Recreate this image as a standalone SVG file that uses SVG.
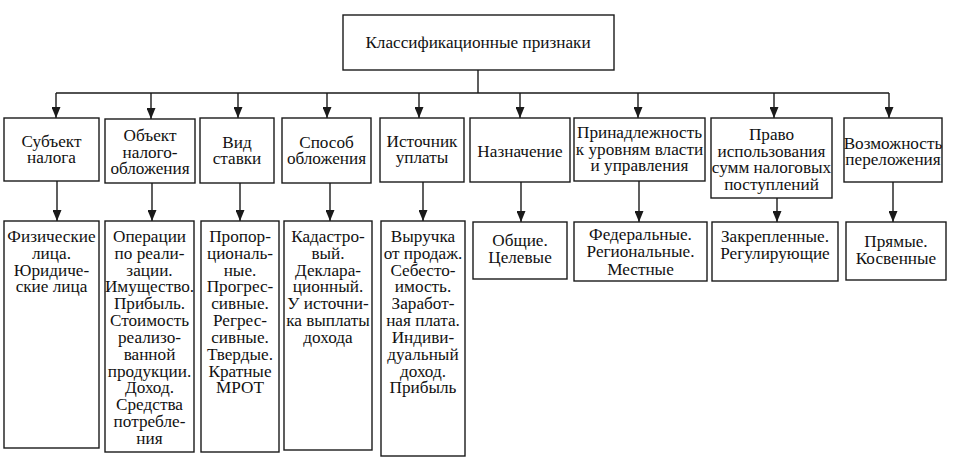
<svg xmlns="http://www.w3.org/2000/svg" width="958" height="460" viewBox="0 0 958 460">
<defs>
<style>
.b{fill:#fff;stroke:#1a1a1a;stroke-width:1.4}
.c{fill:none;stroke:#1a1a1a;stroke-width:1.4}
.t{font-family:'Liberation Serif','Times New Roman',serif;font-size:17.2px;fill:#111;text-anchor:middle}
</style>
<marker id="ah" markerUnits="userSpaceOnUse" markerWidth="11" markerHeight="9" viewBox="0 0 11 9" refX="11" refY="4.5" orient="auto">
<path d="M0,0 L11,4.5 L0,9 z" fill="#1a1a1a"/>
</marker>
</defs>
<rect width="958" height="460" fill="#fff"/>
<g id="connectors">
<path class="c" d="M478,70 V93 M56,93 H889"/>
<path class="c" marker-end="url(#ah)" d="M56,93 V118"/>
<path class="c" marker-end="url(#ah)" d="M151,93 V119"/>
<path class="c" marker-end="url(#ah)" d="M238,93 V118"/>
<path class="c" marker-end="url(#ah)" d="M327,93 V118"/>
<path class="c" marker-end="url(#ah)" d="M419,93 V118"/>
<path class="c" marker-end="url(#ah)" d="M520,93 V118"/>
<path class="c" marker-end="url(#ah)" d="M638,93 V118"/>
<path class="c" marker-end="url(#ah)" d="M774,93 V118"/>
<path class="c" marker-end="url(#ah)" d="M889,93 V118"/>
<path class="c" marker-end="url(#ah)" d="M57,181 V221"/>
<path class="c" marker-end="url(#ah)" d="M152,183 V221"/>
<path class="c" marker-end="url(#ah)" d="M240,183 V221"/>
<path class="c" marker-end="url(#ah)" d="M330,183 V221"/>
<path class="c" marker-end="url(#ah)" d="M423,182 V221"/>
<path class="c" marker-end="url(#ah)" d="M521,182 V222"/>
<path class="c" marker-end="url(#ah)" d="M639,181 V222"/>
<path class="c" marker-end="url(#ah)" d="M777,198 V222"/>
<path class="c" marker-end="url(#ah)" d="M893,182 V222"/>
</g>
<g id="root">
<rect class="b" x="343" y="15" width="271" height="55"/>
<text class="t" x="478" y="48">Классификационные признаки</text>
</g>
<g id="n1">
<rect class="b" x="4" y="118" width="95" height="63"/>
<text class="t" x="51.5" y="147">Субъект</text><text class="t" x="51.5" y="163">налога</text>
</g>
<g id="n2">
<rect class="b" x="105" y="119" width="90" height="64"/>
<text class="t" x="150" y="141">Объект</text><text class="t" x="150" y="158">налого-</text><text class="t" x="150" y="174">обложения</text>
</g>
<g id="n3">
<rect class="b" x="200" y="118" width="74" height="65"/>
<text class="t" x="237" y="148">Вид</text><text class="t" x="237" y="164">ставки</text>
</g>
<g id="n4">
<rect class="b" x="282" y="118" width="89" height="65"/>
<text class="t" x="326.5" y="148">Способ</text><text class="t" x="326.5" y="164">обложения</text>
</g>
<g id="n5">
<rect class="b" x="380" y="118" width="84" height="64"/>
<text class="t" x="422" y="147">Источник</text><text class="t" x="422" y="163">уплаты</text>
</g>
<g id="n6">
<rect class="b" x="470" y="118" width="100" height="64"/>
<text class="t" x="520" y="157">Назначение</text>
</g>
<g id="n7">
<rect class="b" x="574" y="118" width="131" height="63"/>
<text class="t" x="639.5" y="138">Принадлежность</text><text class="t" x="639.5" y="155">к уровням власти</text><text class="t" x="639.5" y="171">и управления</text>
</g>
<g id="n8">
<rect class="b" x="711" y="118" width="121" height="80"/>
<text class="t" x="771.5" y="140">Право</text><text class="t" x="771.5" y="157">использования</text><text class="t" x="771.5" y="173">сумм налоговых</text><text class="t" x="771.5" y="190">поступлений</text>
</g>
<g id="n9">
<rect class="b" x="844" y="118" width="98" height="64"/>
<text class="t" x="893" y="149">Возможность</text><text class="t" x="893" y="165">переложения</text>
</g>
<g id="d1">
<rect class="b" x="4" y="221" width="95" height="227"/>
<text class="t" x="51.5" y="242">Физические</text><text class="t" x="51.5" y="259">лица.</text><text class="t" x="51.5" y="276">Юридиче-</text><text class="t" x="51.5" y="292">ские лица</text>
</g>
<g id="d2">
<rect class="b" x="105" y="221" width="89" height="231"/>
<text class="t" x="149.5" y="242">Операции</text><text class="t" x="149.5" y="259">по реали-</text><text class="t" x="149.5" y="276">зации.</text><text class="t" x="149.5" y="292">Имущество.</text><text class="t" x="149.5" y="309">Прибыль.</text><text class="t" x="149.5" y="326">Стоимость</text><text class="t" x="149.5" y="343">реализо-</text><text class="t" x="149.5" y="360">ванной</text><text class="t" x="149.5" y="377">продукции.</text><text class="t" x="149.5" y="393">Доход.</text><text class="t" x="149.5" y="410">Средства</text><text class="t" x="149.5" y="427">потребле-</text><text class="t" x="149.5" y="444">ния</text>
</g>
<g id="d3">
<rect class="b" x="201" y="221" width="78" height="231"/>
<text class="t" x="240" y="242">Пропор-</text><text class="t" x="240" y="259">циональ-</text><text class="t" x="240" y="276">ные.</text><text class="t" x="240" y="292">Прогрес-</text><text class="t" x="240" y="309">сивные.</text><text class="t" x="240" y="326">Регрес-</text><text class="t" x="240" y="343">сивные.</text><text class="t" x="240" y="360">Твердые.</text><text class="t" x="240" y="377">Кратные</text><text class="t" x="240" y="393">МРОТ</text>
</g>
<g id="d4">
<rect class="b" x="284" y="221" width="88" height="229"/>
<text class="t" x="328" y="242">Кадастро-</text><text class="t" x="328" y="259">вый.</text><text class="t" x="328" y="276">Деклара-</text><text class="t" x="328" y="292">ционный.</text><text class="t" x="328" y="309">У источни-</text><text class="t" x="328" y="326">ка выплаты</text><text class="t" x="328" y="343">дохода</text>
</g>
<g id="d5">
<rect class="b" x="381" y="221" width="84" height="235"/>
<text class="t" x="423" y="242">Выручка</text><text class="t" x="423" y="259">от продаж.</text><text class="t" x="423" y="276">Себесто-</text><text class="t" x="423" y="292">имость.</text><text class="t" x="423" y="309">Заработ-</text><text class="t" x="423" y="326">ная плата.</text><text class="t" x="423" y="343">Индиви-</text><text class="t" x="423" y="360">дуальный</text><text class="t" x="423" y="377">доход.</text><text class="t" x="423" y="393">Прибыль</text>
</g>
<g id="d6">
<rect class="b" x="473" y="222" width="94" height="57"/>
<text class="t" x="520" y="246">Общие.</text><text class="t" x="520" y="263">Целевые</text>
</g>
<g id="d7">
<rect class="b" x="574" y="222" width="133" height="59"/>
<text class="t" x="640.5" y="240">Федеральные.</text><text class="t" x="640.5" y="257">Региональные.</text><text class="t" x="640.5" y="275">Местные</text>
</g>
<g id="d8">
<rect class="b" x="712" y="222" width="126" height="59"/>
<text class="t" x="775" y="242">Закрепленные.</text><text class="t" x="775" y="259">Регулирующие</text>
</g>
<g id="d9">
<rect class="b" x="846" y="222" width="100" height="58"/>
<text class="t" x="896" y="247">Прямые.</text><text class="t" x="896" y="264">Косвенные</text>
</g>
</svg>
